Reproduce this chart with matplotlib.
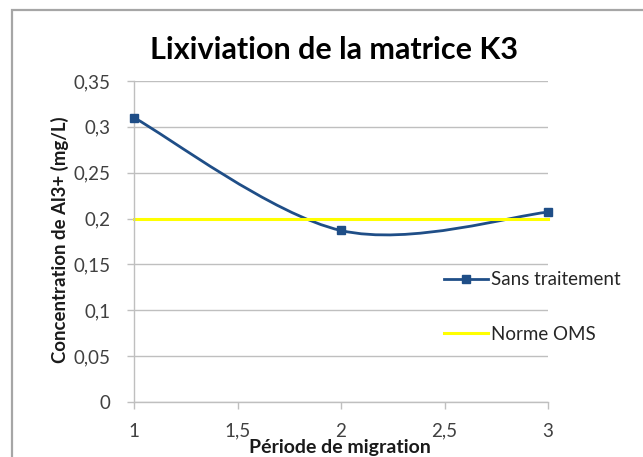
import numpy as np
import matplotlib.pyplot as plt
from matplotlib.path import Path
from matplotlib.patches import PathPatch, Rectangle
from matplotlib.lines import Line2D
from matplotlib.ticker import FuncFormatter

plt.rcParams["font.family"] = ["Lato", "DejaVu Sans"]

periode = [1, 2, 3]
sans_traitement = [0.31, 0.187, 0.207]
norme_oms = [0.2, 0.2, 0.2]
y_ticks = [0, 0.05, 0.1, 0.15, 0.2, 0.25, 0.3, 0.35]
x_ticks = [1, 1.5, 2, 2.5, 3]

blue = "#1f4e87"
yellow = "#ffff00"
grey = "#a6a6a6"


def smooth_path(xs, ys):
    # Bezier segments with control points from neighbouring points (spreadsheet style smoothing)
    pts = np.column_stack([xs, ys]).astype(float)
    n = len(pts)
    verts = [pts[0]]
    codes = [Path.MOVETO]
    for i in range(n - 1):
        p0 = pts[max(i - 1, 0)]
        p1 = pts[i]
        p2 = pts[i + 1]
        p3 = pts[min(i + 2, n - 1)]
        verts += [p1 + (p2 - p0) / 6, p2 - (p3 - p1) / 6, p2]
        codes += [Path.CURVE4] * 3
    return Path(verts, codes)


fig = plt.figure(figsize=(6.43, 4.57), dpi=100)
fig.patches.append(Rectangle((12 / 643, -0.1), 1.2, 1 - 10 / 457 + 0.1,
                             transform=fig.transFigure, fill=False,
                             edgecolor=grey, linewidth=1.6))

ax = fig.add_axes([134 / 643, 1 - 402 / 457, 414 / 643, 321 / 457])
ax.set_xlim(1, 3)
ax.set_ylim(0, 0.35)

ax.set_yticks(y_ticks)
ax.set_xticks(x_ticks)
comma = FuncFormatter(lambda v, p: ("%g" % v).replace(".", ","))
ax.xaxis.set_major_formatter(comma)
ax.yaxis.set_major_formatter(comma)
ax.grid(axis="y", color="#bfbfbf", linewidth=1.0)
ax.set_axisbelow(True)
for s in ["top", "right"]:
    ax.spines[s].set_visible(False)
for s in ["left", "bottom"]:
    ax.spines[s].set_color("#bfbfbf")
    ax.spines[s].set_linewidth(1.0)
ax.tick_params(colors="#bfbfbf", length=5, width=1.0, labelcolor="#404040",
               labelsize=13.5)
ax.tick_params(axis="x", pad=10)
ax.tick_params(axis="y", pad=12)

ax.plot(periode, norme_oms, color=yellow, linewidth=2.2, clip_on=False)
ax.add_patch(PathPatch(smooth_path(periode, sans_traitement), fill=False,
                       edgecolor=blue, linewidth=2.0, clip_on=False))
ax.plot(periode, sans_traitement, linestyle="none", marker="s", markersize=6,
        color=blue, clip_on=False, zorder=5)

fig.text(334 / 643, 1 - 50 / 457, "Lixiviation de la matrice K3",
         ha="center", va="center", fontsize=22, fontweight="bold")
fig.text(60 / 643, 1 - 240 / 457, "Concentration de Al3+ (mg/L)",
         ha="center", va="center", rotation=90, fontsize=13.4,
         fontweight="bold", color="#1a1a1a")
fig.text(340 / 643, 1 - 447 / 457, "Période de migration",
         ha="center", va="center", fontsize=14, fontweight="bold",
         color="#1a1a1a")

handles = [
    Line2D([], [], color=blue, linewidth=2.0, marker="s", markersize=6),
    Line2D([], [], color=yellow, linewidth=2.2),
]
fig.legend(handles, ["Sans traitement", "Norme OMS"], loc="center left",
           bbox_to_anchor=(427 / 643, 1 - 307 / 457), frameon=False,
           fontsize=13.5, handlelength=2.35, handletextpad=0.15,
           labelspacing=2.0, labelcolor="#262626")

fig.savefig("out.png", dpi=100)
